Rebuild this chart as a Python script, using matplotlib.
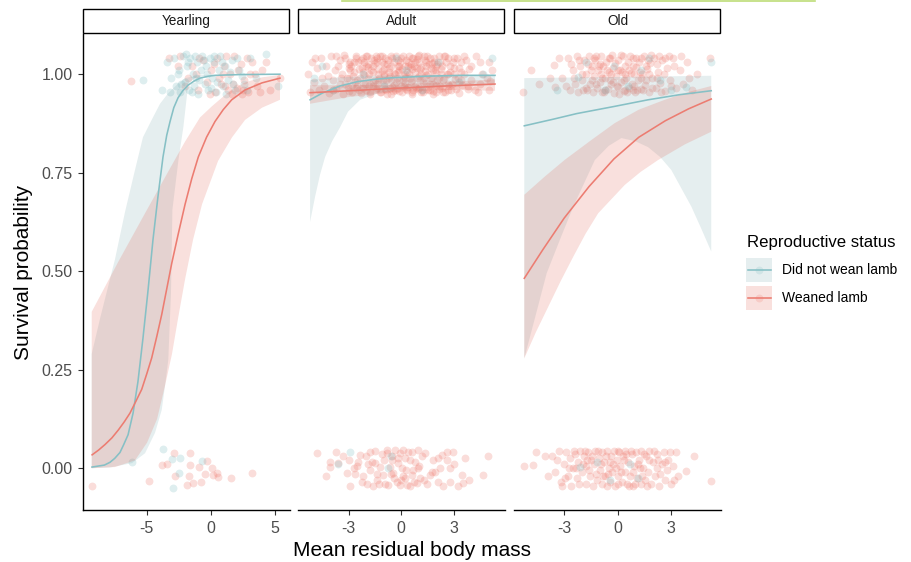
import matplotlib
matplotlib.use("Agg")
import matplotlib.pyplot as plt
from matplotlib.patches import Rectangle

plt.rcParams['font.family'] = ['Liberation Sans', 'DejaVu Sans']
plt.rcParams['axes.unicode_minus'] = False

W, H = 912, 562

TEAL = "#7fbcc1"
RED = "#ef786c"
TEAL_LINE = "#86c0c5"
RED_LINE = "#ec7c71"
TEAL_FILL = "#7daaaf"
RED_FILL = "#e16455"

panels = ["Yearling", "Adult", "Old"]
x_ticks = [[-5, 0, 5], [-3, 0, 3], [-3, 0, 3]]
x_limits = [(-9.97, 6.15), (-5.89, 5.94), (-5.83, 5.83)]
y_ticks = [0.0, 0.25, 0.5, 0.75, 1.0]
y_tick_labels = ["0.00", "0.25", "0.50", "0.75", "1.00"]
groups = ["Did not wean lamb", "Weaned lamb"]

# ---- fitted curves (x, p) ----
yearling_teal_curve = [(-9.27, 0.003), (-8.3, 0.008), (-7.87, 0.015), (-7.5, 0.025), (-7.09, 0.04),
                       (-6.8, 0.06), (-6.46, 0.085), (-6.07, 0.14), (-5.69, 0.22), (-5.30, 0.33),
                       (-4.91, 0.45), (-4.52, 0.58), (-4.13, 0.69), (-3.74, 0.79), (-3.45, 0.845),
                       (-3.19, 0.88), (-2.9, 0.915), (-2.57, 0.94), (-2.2, 0.958), (-1.79, 0.972),
                       (-1.3, 0.983), (-0.86, 0.99), (-0.2, 0.995), (0.31, 0.997), (1.2, 0.998),
                       (2.26, 0.999), (5.37, 1.0)]
yearling_red_curve = [(-9.26, 0.034), (-8.76, 0.046), (-8.26, 0.06), (-7.72, 0.077), (-7.22, 0.097),
                      (-6.75, 0.118), (-6.31, 0.14), (-5.85, 0.17), (-5.40, 0.20), (-5.0, 0.24),
                      (-4.62, 0.28), (-4.22, 0.335), (-3.84, 0.39), (-3.45, 0.455), (-3.06, 0.52),
                      (-2.55, 0.595), (-2.02, 0.67), (-1.5, 0.735), (-0.99, 0.79), (-0.35, 0.84),
                      (0.31, 0.88), (0.95, 0.91), (1.61, 0.935), (2.65, 0.96), (3.97, 0.978), (5.37, 0.99)]
adult_teal_curve = [(-5.2, 0.935), (-4.5, 0.952), (-3.5, 0.97), (-2.5, 0.981), (-1.5, 0.987),
                    (-0.5, 0.991), (0.5, 0.993), (1.5, 0.995), (2.5, 0.996), (3.5, 0.997), (5.37, 0.997)]
adult_red_curve = [(-5.2, 0.953), (-2.5, 0.959), (0.0, 0.965), (2.5, 0.970), (5.37, 0.975)]
old_teal_curve = [(-5.25, 0.869), (-3.6, 0.886), (-2.3, 0.90), (-0.2, 0.918), (1.72, 0.935),
                  (3.5, 0.948), (5.28, 0.958)]
old_red_curve = [(-5.25, 0.482), (-4.2, 0.555), (-3.0, 0.635), (-1.6, 0.715), (-0.2, 0.785),
                 (1.2, 0.84), (2.7, 0.882), (4.0, 0.912), (5.28, 0.937)]

# ---- confidence ribbons: upper and lower edges ----
yearling_teal_upper = [(-9.29, 0.29), (-8.64, 0.38), (-7.48, 0.53), (-6.70, 0.65), (-5.92, 0.757),
                       (-5.30, 0.84), (-4.62, 0.884), (-3.97, 0.925), (-3.33, 0.952), (-2.6, 0.975),
                       (-2.02, 0.99), (-0.86, 0.998), (2.26, 1.0), (5.37, 1.0)]
yearling_teal_lower = [(-9.29, 0.0), (-7.87, 0.002), (-6.15, 0.013), (-5.14, 0.038), (-4.36, 0.09),
                       (-3.84, 0.148), (-3.58, 0.21), (-3.33, 0.275), (-3.12, 0.444), (-3.01, 0.656),
                       (-2.54, 0.782), (-2.15, 0.867), (-1.77, 0.977), (-1.25, 0.99), (-0.08, 0.998),
                       (2.26, 0.999), (5.37, 0.9995)]
yearling_red_upper = [(-9.29, 0.397), (-7.22, 0.524), (-5.14, 0.647), (-3.33, 0.753), (-2.02, 0.829),
                      (-0.86, 0.89), (0.05, 0.918), (1.48, 0.958), (2.65, 0.979), (3.97, 0.992), (5.37, 0.998)]
yearling_red_lower = [(-9.29, 0.0), (-7.48, 0.003), (-5.92, 0.02), (-4.98, 0.065), (-4.20, 0.125),
                      (-3.58, 0.21), (-3.04, 0.29), (-2.57, 0.38), (-2.02, 0.48), (-1.40, 0.58),
                      (-0.70, 0.67), (0.55, 0.78), (1.64, 0.84), (2.65, 0.884), (3.97, 0.915), (5.37, 0.935)]
adult_teal_upper = [(-5.2, 0.985), (-3.5, 0.992), (-1.5, 0.996), (0.5, 0.998), (3.0, 0.999), (5.37, 0.999)]
adult_teal_lower = [(-5.2, 0.625), (-4.91, 0.69), (-4.63, 0.745), (-4.34, 0.79), (-3.94, 0.83),
                    (-3.49, 0.865), (-3.03, 0.905), (-2.34, 0.935), (-1.37, 0.951), (-0.06, 0.961),
                    (2.23, 0.968), (5.37, 0.972)]
adult_red_upper = [(-5.2, 0.972), (-3.0, 0.972), (0.0, 0.974), (3.0, 0.981), (5.37, 0.987)]
adult_red_lower = [(-5.2, 0.925), (-3.0, 0.942), (0.0, 0.956), (3.0, 0.96), (5.37, 0.958)]
old_teal_upper = [(-5.25, 0.99), (0.0, 0.993), (5.28, 0.996)]
old_teal_lower = [(-5.25, 0.279), (-4.6, 0.39), (-3.99, 0.495), (-3.2, 0.585), (-2.49, 0.664),
                  (-1.28, 0.782), (-0.5, 0.818), (0.22, 0.838), (1.0, 0.83), (1.72, 0.815),
                  (2.4, 0.79), (3.03, 0.757), (4.16, 0.664), (4.7, 0.61), (5.28, 0.55)]
old_red_upper = [(-5.25, 0.694), (-4.1, 0.74), (-2.96, 0.783), (-1.5, 0.832), (-0.15, 0.876),
                 (1.2, 0.91), (2.66, 0.935), (4.0, 0.955), (5.28, 0.970)]
old_red_lower = [(-5.25, 0.279), (-4.6, 0.345), (-3.90, 0.41), (-3.2, 0.475), (-2.49, 0.537),
                 (-1.8, 0.595), (-1.09, 0.647), (-0.3, 0.685), (0.41, 0.719), (1.3, 0.752),
                 (2.28, 0.782), (3.8, 0.822), (5.28, 0.854)]

# ---- raw observations (jittered) ----
yearling_teal_pts = [
    (-5.3, 0.984), (-3.8, 0.96), (-3.4, 1.03), (-3.1, 0.99), (-2.9, 1.04), (-2.7, 0.97), (-2.5, 1.01),
    (-2.4, 0.955), (-2.2, 1.045), (-2.0, 0.98), (-1.9, 1.02), (-1.7, 0.96), (-1.6, 1.04), (-1.4, 1.0),
    (-1.3, 0.97), (-1.1, 1.03), (-1.0, 0.95), (-0.8, 1.01), (-0.7, 1.045), (-0.5, 0.975), (-0.4, 1.02),
    (-0.2, 0.96), (-0.1, 1.04), (0.1, 0.99), (0.2, 1.03), (0.4, 0.955), (0.6, 1.01), (0.7, 1.045),
    (0.9, 0.97), (1.1, 1.02), (1.3, 0.985), (1.6, 1.035), (1.9, 0.96), (2.2, 1.01), (2.6, 0.975),
    (3.0, 1.04), (3.5, 0.99), (4.3, 1.05), (5.2, 0.97), (-1.2, 0.99),
    (-2.6, 1.0), (-2.3, 0.975), (-1.95, 1.05), (-1.5, 0.955), (-1.25, 1.045), (-0.9, 0.985), (-0.55, 1.035),
    (-0.3, 1.0), (0.0, 0.965), (0.25, 1.045), (0.5, 0.98), (0.85, 1.03), (1.2, 0.95), (1.45, 1.005),
    (1.75, 0.975), (2.0, 1.04), (2.4, 0.995), (2.8, 0.96), (-3.2, 0.955), (-1.8, 1.03),
    (-3.76, 0.048), (-6.18, 0.017), (-3.06, 0.023), (-2.41, 0.025), (-2.47, -0.011), (-2.98, -0.051),
    (-0.72, 0.019)]
yearling_red_pts = [
    (-6.2, 0.983), (-3.3, 1.04), (-2.4, 1.045), (-2.0, 0.97), (-1.5, 1.02), (-1.0, 0.96), (-0.6, 1.035),
    (-0.3, 0.98), (0.0, 1.01), (0.3, 0.955), (0.5, 1.04), (0.8, 0.975), (1.0, 1.02), (1.3, 0.96),
    (1.5, 1.0), (1.8, 1.045), (2.0, 0.965), (2.3, 1.025), (2.6, 0.985), (2.9, 0.955), (3.2, 1.03),
    (3.6, 0.97), (4.0, 1.01), (4.6, 0.96), (5.4, 0.99), (-1.8, 0.99), (0.6, 0.99), (1.6, 0.95),
    (2.4, 0.95), (3.0, 1.0),
    (-0.9, 1.04), (-0.1, 0.95), (0.2, 1.025), (0.9, 1.0), (1.2, 1.045), (1.7, 0.975), (2.1, 1.01),
    (2.5, 0.96), (2.8, 1.04), (3.4, 1.0), (3.8, 0.955), (4.3, 1.03), (-1.2, 1.0), (-2.6, 1.02), (1.1, 0.97),
    (-9.24, -0.045), (-4.83, -0.032), (-3.84, 0.008), (-3.40, 0.011), (-2.86, 0.038), (-2.80, -0.02),
    (-1.64, 0.038), (-1.64, 0.008), (-1.71, -0.019), (-1.85, -0.042), (-1.38, -0.037), (-0.80, -0.034),
    (-0.91, 0.004), (-0.33, 0.019), (0.05, 0.0), (-0.47, -0.015), (0.44, -0.013), (0.57, -0.021),
    (0.13, -0.017), (1.56, -0.025), (3.17, -0.013)]

adult_teal_pts = [(-5.0, 0.99), (-4.5, 1.02), (-3.9, 0.96), (-2.2, 1.0), (-1.0, 0.97), (0.3, 1.01),
                  (1.2, 0.96), (2.1, 1.03), (3.3, 0.98), (4.7, 1.0), (5.2, 1.04), (-0.3, 1.04),
                  (-2.91, 0.04), (-3.58, 0.01), (-0.75, 0.0), (-0.6, 0.03)]
adult_red_pts = [
    (-5.1, 1.03), (-4.6, 1.04), (-4.0, 1.045), (-3.6, 1.02), (-3.2, 1.04), (-2.9, 1.03), (-2.6, 1.045),
    (-2.3, 1.035), (-2.0, 1.02), (-1.7, 1.04), (-1.4, 1.03), (-1.1, 1.045), (-0.8, 1.025), (-0.5, 1.04),
    (-0.2, 1.035), (0.1, 1.045), (0.4, 1.02), (0.7, 1.04), (1.0, 1.03), (1.3, 1.045), (1.6, 1.025),
    (1.9, 1.04), (2.2, 1.03), (2.5, 1.045), (2.8, 1.02), (3.2, 1.04), (3.7, 1.035), (4.3, 1.045), (5.0, 1.03),
    (-5.3, 1.0), (-4.8, 1.015), (-4.2, 0.995), (-3.8, 1.01), (-3.4, 1.0), (-3.0, 1.015), (-2.7, 1.005),
    (-2.4, 1.012), (-2.1, 0.998), (-1.9, 1.018), (-1.6, 1.006), (-1.3, 1.014), (-1.0, 1.0), (-0.7, 1.016),
    (-0.4, 1.004), (-0.1, 1.01), (0.2, 1.0), (0.5, 1.017), (0.8, 1.006), (1.1, 1.012), (1.4, 0.999),
    (1.7, 1.015), (2.0, 1.004), (2.3, 1.013), (2.7, 1.0), (3.0, 1.016), (3.4, 1.006), (3.9, 1.012),
    (4.6, 1.0), (5.2, 1.01),
    (-5.0, 0.98), (-4.4, 0.97), (-3.9, 0.985), (-3.5, 0.975), (-3.1, 0.99), (-2.8, 0.972), (-2.5, 0.986),
    (-2.2, 0.978), (-1.9, 0.99), (-1.6, 0.97), (-1.3, 0.984), (-1.0, 0.976), (-0.7, 0.99), (-0.4, 0.972),
    (-0.1, 0.985), (0.2, 0.977), (0.5, 0.99), (0.8, 0.971), (1.1, 0.986), (1.4, 0.978), (1.7, 0.99),
    (2.0, 0.973), (2.4, 0.984), (2.7, 0.976), (3.1, 0.988), (3.5, 0.972), (4.0, 0.985), (4.5, 0.975),
    (5.1, 0.982),
    (-5.2, 0.955), (-4.7, 0.96), (-4.1, 0.952), (-3.7, 0.962), (-3.3, 0.95), (-2.95, 0.958), (-2.6, 0.964),
    (-2.3, 0.953), (-2.0, 0.96), (-1.75, 0.95), (-1.45, 0.963), (-1.15, 0.955), (-0.85, 0.96), (-0.55, 0.951),
    (-0.25, 0.962), (0.05, 0.954), (0.35, 0.96), (0.65, 0.95), (0.95, 0.963), (1.25, 0.955), (1.55, 0.96),
    (1.85, 0.951), (2.15, 0.962), (2.5, 0.955), (2.85, 0.96), (3.3, 0.952), (3.8, 0.962), (4.4, 0.955),
    (5.0, 0.96),
    (-3.0, 1.025), (-2.75, 0.995), (-2.45, 1.03), (-2.15, 0.965), (-1.85, 1.0), (-1.55, 1.035), (-1.25, 0.99),
    (-0.95, 1.025), (-0.65, 0.965), (-0.35, 1.0), (-0.05, 1.03), (0.25, 0.99), (0.55, 1.025), (0.85, 0.965),
    (1.15, 1.0), (1.45, 1.03), (1.75, 0.99), (2.05, 1.025), (2.35, 0.965), (2.65, 1.0), (2.95, 1.03),
    (3.25, 0.99), (-2.0, 1.045), (-1.2, 0.955), (-0.3, 1.045), (0.6, 0.955), (1.5, 1.045), (2.4, 0.955),
    (-2.9, 1.01), (0.0, 0.97), (1.0, 0.995), (-1.5, 0.985), (0.3, 1.035), (2.0, 1.02), (-0.9, 1.04),
    (1.2, 0.96), (-2.5, 0.97), (2.7, 1.04), (-3.5, 1.035), (3.6, 1.0),
    (-1.8, 0.975), (-1.1, 1.008), (-0.6, 0.985), (-0.15, 1.022), (0.4, 0.968), (0.9, 1.038), (1.35, 1.008),
    (1.8, 0.975), (-2.2, 1.04), (-0.45, 0.958), (0.15, 0.995), (0.75, 1.02), (-1.35, 1.042), (1.65, 1.042),
    (-0.8, 0.95), (0.45, 1.0),
    (-3.45, 0.99), (-3.25, 1.048), (-3.05, 0.968), (-2.85, 1.02), (-2.65, 0.98), (-2.55, 1.04), (-2.35, 0.99),
    (-2.25, 1.015), (-2.05, 0.975), (-1.95, 1.045), (-1.8, 0.955), (-1.7, 1.01), (-1.6, 0.98), (-1.5, 1.028),
    (-1.4, 0.965), (-1.3, 1.0), (-1.2, 1.045), (-1.05, 0.985), (-0.95, 1.012), (-0.9, 0.962), (-0.75, 1.035),
    (-0.65, 0.995), (-0.55, 1.02), (-0.5, 0.968), (-0.4, 1.03), (-0.3, 0.98), (-0.2, 1.005), (-0.1, 0.958),
    (0.0, 1.04), (0.1, 0.985), (0.2, 1.02), (0.3, 0.962), (0.35, 1.005), (0.45, 1.045), (0.55, 0.98),
    (0.65, 1.012), (0.7, 0.96), (0.8, 1.03), (0.9, 0.99), (1.0, 1.048), (1.05, 0.965), (1.15, 1.018),
    (1.25, 0.98), (1.35, 1.035), (1.45, 0.962), (1.55, 1.0), (1.65, 0.975), (1.75, 1.028), (1.85, 0.958),
    (1.95, 1.01), (2.05, 0.985), (2.15, 1.045), (2.25, 0.97), (2.35, 1.02), (2.45, 0.99), (2.55, 1.032),
    (2.7, 0.96), (2.8, 1.005), (2.9, 0.975), (3.05, 1.04), (3.15, 0.962), (3.3, 1.015), (3.45, 0.985),
    (3.6, 1.045), (3.8, 0.97), (4.0, 1.02), (4.2, 0.96), (4.5, 1.03), (4.9, 0.99), (-4.9, 1.04),
    (-4.5, 0.99), (-4.3, 1.02), (-3.9, 0.96), (-3.7, 1.045),
    (-2.95, 0.99), (-2.7, 1.03), (-2.4, 0.96), (-2.1, 1.03), (-1.85, 0.97), (-1.6, 1.02), (-1.35, 0.975),
    (-1.1, 1.03), (-0.85, 0.985), (-0.6, 1.045), (-0.35, 0.96), (-0.1, 1.02), (0.15, 0.97), (0.4, 1.03),
    (0.65, 0.985), (0.9, 1.015), (1.15, 0.955), (1.4, 1.02), (1.65, 0.96), (1.9, 1.03), (2.15, 0.99),
    (2.45, 1.045), (2.75, 0.97), (3.0, 1.0), (-2.2, 1.005), (-1.0, 0.995), (0.05, 1.012), (1.3, 0.99),
    (2.3, 1.0), (-3.2, 0.975), (-0.7, 1.005), (0.6, 1.04), (1.8, 1.01), (-1.45, 1.045), (0.95, 1.045),
    (-0.25, 0.99), (2.0, 0.955), (-2.8, 0.955), (3.4, 1.03), (-1.9, 1.025),
    (-4.82, 0.038), (-4.06, 0.017), (-4.06, 0.004), (-3.58, 0.014), (-3.10, -0.013), (-2.63, -0.014),
    (-2.34, 0.034), (-2.44, 0.017), (-2.25, -0.034), (-1.96, -0.041), (-1.77, -0.004), (-1.67, 0.017),
    (-1.49, 0.013), (-1.35, -0.030), (-1.20, 0.004), (-1.01, -0.017), (-0.82, 0.046), (-0.78, 0.038),
    (-0.73, -0.042), (-0.63, 0.004), (-0.53, 0.021), (-0.44, -0.013), (-0.34, 0.046), (-0.25, -0.034),
    (-0.15, 0.013), (-0.06, 0.038), (-0.06, -0.042), (0.04, 0.0), (0.13, 0.046), (0.23, -0.025),
    (0.33, -0.042), (0.42, 0.042), (0.51, 0.021), (0.61, -0.017), (0.74, -0.034), (0.80, 0.017),
    (0.90, -0.038), (0.99, 0.046), (1.09, -0.025), (1.37, 0.038), (1.66, -0.017), (1.75, -0.009),
    (1.94, -0.009), (2.13, 0.025), (2.13, -0.034), (2.33, 0.034), (2.61, 0.021), (2.61, 0.042),
    (2.80, -0.034), (2.95, 0.042), (3.27, -0.046), (3.47, -0.017), (3.56, -0.038), (3.66, 0.025),
    (4.70, -0.017), (4.99, 0.031),
    (-2.7, 0.0), (-2.0, 0.03), (-1.6, -0.045), (-1.1, 0.035), (-0.4, -0.025), (0.2, 0.025), (0.7, -0.005),
    (1.2, 0.03), (-0.9, -0.04), (-1.9, 0.01), (0.0, -0.03), (1.5, -0.04), (-3.3, 0.03), (-2.2, -0.02),
    (0.5, -0.045), (1.0, 0.005), (2.4, -0.045), (-0.5, 0.03), (-1.4, -0.015), (2.8, 0.0),
    (-4.3, -0.02), (-3.7, 0.04), (-2.9, -0.045), (-2.5, 0.005), (-1.8, 0.04), (-1.25, -0.04), (-0.95, 0.02),
    (-0.6, -0.015), (-0.2, 0.025), (0.3, -0.005), (0.6, 0.04), (0.95, 0.0), (1.3, -0.03), (1.8, 0.02),
    (2.2, 0.0), (3.0, 0.01), (3.9, -0.03), (-3.0, 0.02), (0.1, -0.02), (-1.5, 0.045)]

old_teal_pts = [(-2.25, 0.992), (-1.8, 1.03), (-0.71, 0.96), (-0.2, 1.02), (0.6, 0.97), (1.3, 1.01),
                (2.38, 0.986), (3.03, 0.96), (3.88, 0.967), (5.28, 1.032), (-3.4, 0.96), (1.8, 1.04),
                (-2.12, 0.004), (-1.18, 0.017), (1.16, -0.025), (-0.4, -0.03), (0.7, 0.01)]
old_red_pts = [
    (-5.3, 0.956), (-4.9, 1.01), (-4.4, 0.975), (-3.6, 1.024), (-3.5, 0.967), (-3.1, 0.99), (-2.8, 1.04),
    (-2.7, 0.96), (-2.5, 1.01), (-2.4, 0.975), (-2.3, 1.045), (-2.2, 0.955), (-2.1, 1.02), (-2.0, 0.985),
    (-1.9, 1.035), (-1.8, 0.965), (-1.75, 1.0), (-1.6, 1.045), (-1.55, 0.975), (-1.45, 1.02), (-1.4, 0.955),
    (-1.3, 0.995), (-1.25, 1.035), (-1.15, 0.965), (-1.1, 1.01), (-1.0, 0.98), (-0.95, 1.045), (-0.85, 0.955),
    (-0.8, 1.02), (-0.7, 0.99), (-0.65, 1.03), (-0.55, 0.962), (-0.5, 1.005), (-0.4, 1.042), (-0.35, 0.975),
    (-0.25, 1.015), (-0.2, 0.952), (-0.1, 0.995), (0.0, 1.035), (0.05, 0.968), (0.15, 1.01), (0.2, 0.98),
    (0.3, 1.045), (0.35, 0.958), (0.45, 1.022), (0.5, 0.99), (0.6, 1.032), (0.65, 0.965), (0.75, 1.003),
    (0.8, 0.975), (0.9, 1.04), (1.0, 0.955), (1.05, 1.018), (1.15, 0.985), (1.2, 1.03), (1.3, 0.962),
    (1.4, 1.0), (1.5, 1.045), (1.55, 0.972), (1.65, 1.012), (1.75, 0.955), (1.85, 1.028), (1.95, 0.99),
    (2.05, 1.04), (2.15, 0.966), (2.3, 1.006), (2.4, 0.978), (2.5, 1.035), (2.65, 0.958), (2.8, 1.015),
    (2.95, 0.985), (3.1, 1.042), (3.3, 0.965), (3.5, 1.01), (3.7, 0.975), (3.9, 1.03), (4.2, 0.96),
    (4.5, 1.0), (5.19, 1.04),
    (-2.0, 1.0), (-1.7, 0.96), (-1.35, 1.04), (-1.0, 1.025), (-0.75, 0.955), (-0.45, 0.985), (-0.15, 1.028),
    (0.1, 0.95), (0.4, 1.0), (0.7, 1.045), (0.95, 0.97), (1.25, 1.005), (1.6, 0.985), (1.9, 1.048),
    (2.2, 0.99), (-1.2, 0.975), (-0.3, 1.048), (0.55, 0.955), (1.35, 1.04), (2.6, 1.0), (-2.6, 1.025),
    (-0.6, 1.01), (0.25, 1.005), (1.1, 0.96), (1.8, 1.0), (-1.5, 1.01), (-0.9, 0.99), (0.85, 1.02),
    (-0.05, 0.97), (2.9, 1.045),
    (-2.45, 0.99), (-2.15, 1.035), (-1.95, 0.96), (-1.65, 1.025), (-1.45, 0.985), (-1.2, 1.045), (-0.95, 1.0),
    (-0.7, 0.96), (-0.5, 1.04), (-0.25, 0.98), (0.0, 1.01), (0.2, 1.048), (0.45, 0.96), (0.65, 1.01),
    (0.85, 0.96), (1.05, 1.04), (1.3, 0.99), (1.45, 0.96), (1.7, 1.035), (1.95, 0.965), (2.2, 1.025),
    (2.45, 0.955), (2.7, 1.04), (3.0, 0.97), (3.2, 1.02), (3.6, 1.045), (4.0, 0.99), (-3.3, 1.04),
    (-3.8, 0.99), (-2.9, 0.97), (-1.05, 1.02), (0.35, 0.985), (1.6, 1.02), (2.35, 1.045), (-0.35, 1.0),
    (0.95, 1.0),
    (-5.25, 0.006), (-4.74, 0.007), (-4.61, 0.042), (5.28, -0.032), (3.88, -0.006), (3.31, 0.040),
    (-3.7, 0.03), (-3.5, -0.01), (-3.3, 0.045), (-3.2, -0.035), (-3.0, 0.01), (-2.9, 0.04), (-2.8, -0.02),
    (-2.7, 0.025), (-2.6, -0.045), (-2.5, 0.0), (-2.4, 0.035), (-2.3, -0.025), (-2.2, 0.015), (-2.1, 0.045),
    (-2.0, -0.01), (-1.9, 0.03), (-1.8, -0.04), (-1.75, 0.005), (-1.65, 0.04), (-1.55, -0.02), (-1.5, 0.02),
    (-1.4, -0.045), (-1.3, 0.01), (-1.25, 0.045), (-1.15, -0.03), (-1.05, 0.025), (-1.0, -0.005), (-0.9, 0.04),
    (-0.85, -0.04), (-0.75, 0.015), (-0.7, -0.02), (-0.6, 0.045), (-0.5, 0.0), (-0.45, -0.035), (-0.35, 0.03),
    (-0.3, -0.01), (-0.2, 0.045), (-0.15, -0.045), (-0.05, 0.02), (0.0, -0.02), (0.1, 0.04), (0.15, 0.005),
    (0.25, -0.035), (0.3, 0.03), (0.4, -0.01), (0.45, 0.045), (0.55, -0.04), (0.6, 0.015), (0.7, -0.02),
    (0.8, 0.035), (0.85, -0.045), (0.95, 0.005), (1.05, 0.04), (1.1, -0.025), (1.2, 0.02), (1.3, -0.04),
    (1.35, 0.045), (1.45, 0.0), (1.55, -0.03), (1.6, 0.03), (1.7, -0.01), (1.8, 0.045), (1.9, -0.04),
    (2.0, 0.015), (2.1, -0.02), (2.25, 0.035), (2.35, -0.045), (2.5, 0.01), (2.6, 0.04), (2.7, -0.03),
    (2.85, 0.02), (3.0, -0.04), (3.1, 0.005), (3.4, -0.02),
    (-2.35, 0.0), (-1.95, 0.01), (-1.2, -0.015), (-0.65, 0.03), (-0.1, 0.0), (0.35, 0.02), (0.9, -0.01),
    (1.5, 0.035), (2.2, 0.0), (-1.6, -0.005), (0.65, -0.045), (1.25, 0.0), (-0.95, 0.01), (0.05, -0.04),
    (2.8, -0.005), (-2.95, -0.025), (-0.4, 0.015), (1.65, -0.045),
    (-3.4, 0.02), (-3.1, -0.045), (-2.75, 0.0), (-2.45, 0.045), (-2.15, -0.04), (-1.85, 0.045), (-1.45, 0.03),
    (-1.1, 0.045), (-0.8, -0.02), (-0.55, -0.015), (-0.25, 0.01), (0.2, -0.01), (0.5, 0.035), (0.75, 0.045),
    (1.0, -0.04), (1.4, -0.02), (1.75, 0.02), (2.05, 0.045), (2.4, -0.015), (2.65, 0.015), (2.95, 0.04),
    (3.2, -0.03), (-4.1, 0.03), (-3.9, -0.02), (4.3, 0.03), (-1.7, 0.02), (0.0, 0.045), (1.15, 0.01),
    (-0.6, -0.045), (2.3, 0.02)]

panel_data = [
    dict(teal_pts=yearling_teal_pts, red_pts=yearling_red_pts,
         teal_band=(yearling_teal_upper, yearling_teal_lower), red_band=(yearling_red_upper, yearling_red_lower),
         teal_curve=yearling_teal_curve, red_curve=yearling_red_curve),
    dict(teal_pts=adult_teal_pts, red_pts=adult_red_pts,
         teal_band=(adult_teal_upper, adult_teal_lower), red_band=(adult_red_upper, adult_red_lower),
         teal_curve=adult_teal_curve, red_curve=adult_red_curve),
    dict(teal_pts=old_teal_pts, red_pts=old_red_pts,
         teal_band=(old_teal_upper, old_teal_lower), red_band=(old_red_upper, old_red_lower),
         teal_curve=old_teal_curve, red_curve=old_red_curve),
]

# panel boxes in pixels (left, top, right, bottom)
panel_px = [(83, 34, 290, 510), (298, 34, 505, 510), (514, 34, 721, 510)]


def px_rect(x0, y0, x1, y1):
    return [x0 / W, 1 - y1 / H, (x1 - x0) / W, (y1 - y0) / H]


def draw_band(ax, band, color):
    upper, lower = band
    xs = [p[0] for p in upper] + [p[0] for p in reversed(lower)]
    ys = [p[1] for p in upper] + [p[1] for p in reversed(lower)]
    ax.fill(xs, ys, color=color, alpha=0.2, linewidth=0, zorder=2)


def draw_points(ax, pts, color):
    ax.scatter([p[0] for p in pts], [p[1] for p in pts], s=32, color=color,
               alpha=0.25, linewidths=0, zorder=1)


def draw_curve(ax, curve, color):
    ax.plot([p[0] for p in curve], [p[1] for p in curve], color=color, lw=1.15, zorder=3,
            solid_joinstyle='round')


fig = plt.figure(figsize=(W / 100, H / 100), dpi=100)

for i, name in enumerate(panels):
    ax = fig.add_axes(px_rect(*panel_px[i]))
    d = panel_data[i]
    draw_points(ax, d['red_pts'], RED)
    draw_points(ax, d['teal_pts'], TEAL)
    draw_band(ax, d['teal_band'], TEAL_FILL)
    draw_band(ax, d['red_band'], RED_FILL)
    draw_curve(ax, d['teal_curve'], TEAL_LINE)
    draw_curve(ax, d['red_curve'], RED_LINE)

    ax.set_xlim(*x_limits[i])
    ax.set_ylim(-0.106, 1.102)
    ax.set_xticks(x_ticks[i])
    ax.set_xticklabels([str(t) for t in x_ticks[i]])
    for s in ['top', 'right']:
        ax.spines[s].set_visible(False)
    ax.spines['bottom'].set_linewidth(1.0)
    ax.tick_params(axis='x', length=3.3, width=0.8, color='#333333', labelsize=11.5,
                   labelcolor='#4d4d4d', pad=4.5)
    if i == 0:
        ax.set_yticks(y_ticks)
        ax.set_yticklabels(y_tick_labels)
        ax.spines['left'].set_linewidth(1.0)
        ax.tick_params(axis='y', length=3.3, width=0.8, color='#333333', labelsize=11.5,
                       labelcolor='#4d4d4d', pad=4)
    else:
        ax.spines['left'].set_visible(False)
        ax.set_yticks([])

# overlay in pixel coordinates for strips, legend and titles
ov = fig.add_axes([0, 0, 1, 1])
ov.set_xlim(0, W)
ov.set_ylim(H, 0)
ov.axis('off')

for i, name in enumerate(panels):
    x0, _, x1, _ = panel_px[i]
    ov.add_patch(Rectangle((x0 + 0.5, 8.5), x1 - x0 - 1, 24.5, facecolor='white',
                           edgecolor='black', lw=1.0))
    ov.text((x0 + x1) / 2, 21, name, ha='center', va='center', fontsize=9.8, color='#1a1a1a')

# thin green rule along the top edge of the image
ov.plot([342, 815], [0.7, 0.7], color='#bddd78', lw=1.2)

ov.text(412, 550, "Mean residual body mass", ha='center', va='center', fontsize=15)
ov.text(24, 272, "Survival probability", ha='center', va='center', fontsize=15, rotation=90)

# legend
ov.text(747, 242, "Reproductive status", ha='left', va='center', fontsize=12.1)
key_colors = [(TEAL_FILL, TEAL_LINE, TEAL), (RED_FILL, RED_LINE, RED)]
for k, label in enumerate(groups):
    ky = 258 + k * 27.5
    fill_c, line_c, pt_c = key_colors[k]
    ov.add_patch(Rectangle((746.5, ky), 26, 24, facecolor=fill_c, alpha=0.2, lw=0))
    ov.scatter([759.5], [ky + 12], s=32, color=pt_c, alpha=0.2, linewidths=0)
    ov.plot([748, 771], [ky + 12, ky + 12], color=line_c, lw=1.15)
    ov.text(782.5, ky + 12.5, label, ha='left', va='center', fontsize=10)

fig.savefig("out.png", dpi=100)
plt.close(fig)
